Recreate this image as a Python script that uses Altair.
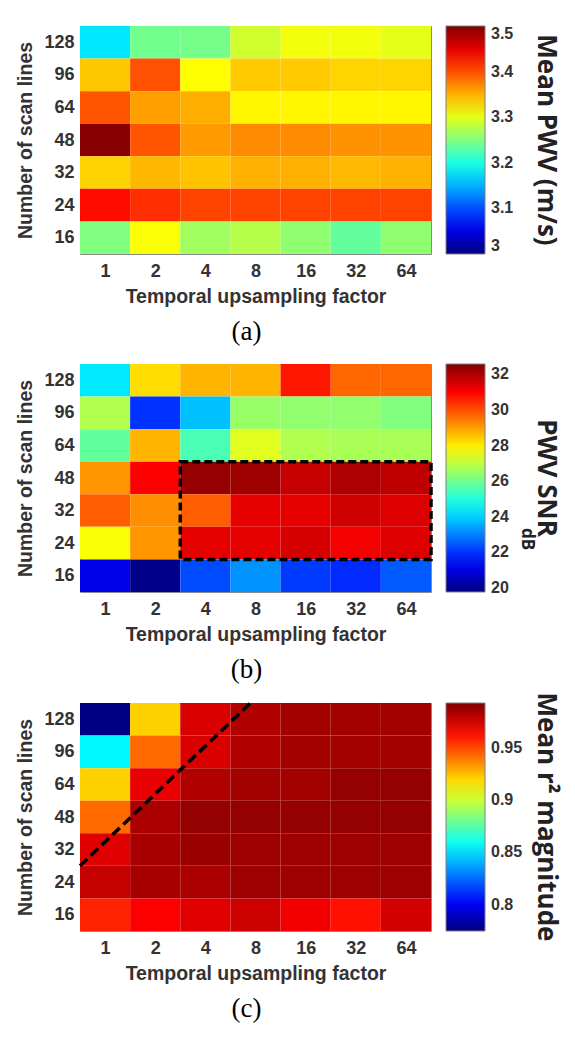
import json
import altair as alt
import pandas as pd

# ---------------- data ----------------
x_labels = ["1", "2", "4", "8", "16", "32", "64"]
y_labels = ["128", "96", "64", "48", "32", "24", "16"]  # top row first

mean_pwv = [
    [3.176, 3.243, 3.245, 3.290, 3.307, 3.307, 3.300],
    [3.340, 3.398, 3.313, 3.338, 3.338, 3.333, 3.333],
    [3.396, 3.359, 3.352, 3.317, 3.317, 3.317, 3.317],
    [3.497, 3.396, 3.362, 3.369, 3.369, 3.366, 3.366],
    [3.334, 3.348, 3.342, 3.351, 3.351, 3.347, 3.350],
    [3.432, 3.415, 3.405, 3.405, 3.405, 3.405, 3.405],
    [3.250, 3.310, 3.266, 3.276, 3.258, 3.236, 3.258],
]

pwv_snr = [
    [24.3, 28.2, 28.7, 28.7, 30.7, 29.7, 29.7],
    [26.8, 22.0, 23.8, 26.5, 26.4, 26.4, 26.2],
    [25.8, 28.7, 25.5, 27.4, 26.8, 26.7, 26.7],
    [29.1, 31.0, 32.3, 32.2, 31.7, 32.0, 31.8],
    [29.8, 29.2, 29.8, 31.3, 31.3, 31.6, 31.4],
    [27.7, 29.1, 31.3, 31.3, 31.5, 31.1, 31.4],
    [21.1, 19.9, 22.3, 23.2, 22.1, 21.9, 22.5],
]

mean_r2 = [
    [0.776, 0.921, 0.973, 0.982, 0.985, 0.985, 0.985],
    [0.855, 0.943, 0.973, 0.982, 0.985, 0.985, 0.985],
    [0.921, 0.970, 0.982, 0.985, 0.985, 0.988, 0.988],
    [0.943, 0.983, 0.988, 0.988, 0.988, 0.988, 0.988],
    [0.972, 0.984, 0.987, 0.986, 0.986, 0.986, 0.986],
    [0.978, 0.984, 0.983, 0.986, 0.986, 0.986, 0.986],
    [0.958, 0.966, 0.972, 0.976, 0.968, 0.962, 0.975],
]

pwv_domain = [3.0, 3.5]
snr_domain = [19.77, 32.58]
r2_domain = [0.775, 0.9925]

pwv_ticks = [3, 3.1, 3.2, 3.3, 3.4, 3.5]
snr_ticks = [20, 22, 24, 26, 28, 30, 32]
r2_ticks = [0.8, 0.85, 0.9, 0.95]

pwv_title = "Mean PWV (m/s)"
snr_title = "PWV SNR"
snr_sub = "dB"
r2_title = "Mean r\u00b2 magnitude"

captions = ["(a)", "(b)", "(c)"]
x_title = "Temporal upsampling factor"
y_title = "Number of scan lines"

# annotation overlays (in cell-index units)
snr_box_x = [1.5, 6.5]
snr_box_y = [0.5, 3.5]
r2_line_x = [-0.5, 2.9]
r2_line_y = [1.5, 6.5]

# jet colormap
JET_POS = [0, 0.125, 0.375, 0.625, 0.875, 1]
JET_COL = ["#000080", "#0000ff", "#00ffff", "#ffff00", "#ff0000", "#800000"]

W, H = 351, 228
AX_FONT = "Liberation Sans"
TXT = "#333333"

x_expr = json.dumps(x_labels) + "[datum.value]"
y_expr = json.dumps(list(reversed(y_labels))) + "[datum.value]"

x_axis = alt.Axis(values=list(range(len(x_labels))), labelExpr=x_expr, title=x_title,
                  grid=False, ticks=False, domain=False, labelPadding=8, titlePadding=7,
                  labelFont=AX_FONT, labelFontSize=18, labelFontWeight="bold", labelColor=TXT,
                  titleFont=AX_FONT, titleFontSize=19.5, titleFontWeight="bold", titleColor=TXT,
                  labelAngle=0)
y_axis = alt.Axis(values=list(range(len(y_labels))), labelExpr=y_expr, title=y_title,
                  grid=False, ticks=False, domain=False, labelPadding=6, titlePadding=8,
                  labelFont=AX_FONT, labelFontSize=18, labelFontWeight="bold", labelColor=TXT,
                  titleFont=AX_FONT, titleFontSize=19.5, titleFontWeight="bold", titleColor=TXT)
xs = alt.Scale(domain=[-0.5, len(x_labels) - 0.5], nice=False, zero=False)
ys = alt.Scale(domain=[-0.5, len(y_labels) - 0.5], nice=False, zero=False)


def to_long(grid):
    n = len(grid)
    rows = []
    for r, row in enumerate(grid):
        for c, v in enumerate(row):
            rows.append({"xi": c, "yi": n - 1 - r, "v": v})
    return pd.DataFrame(rows)


def heat(grid, domain, ticks, title, tpad):
    lo, hi = domain
    stops = [lo + p * (hi - lo) for p in JET_POS]
    return alt.Chart(to_long(grid)).transform_calculate(
        x0="datum.xi - 0.5", x1="datum.xi + 0.5",
        y0="datum.yi - 0.5", y1="datum.yi + 0.5",
    ).mark_rect().encode(
        x=alt.X("x0:Q", scale=xs, axis=x_axis),
        x2="x1:Q",
        y=alt.Y("y0:Q", scale=ys, axis=y_axis),
        y2="y1:Q",
        color=alt.Color("v:Q", scale=alt.Scale(domain=stops, range=JET_COL, clamp=True,
                                               interpolate="rgb"),
                        legend=alt.Legend(
                            title=title, titleOrient="right", titleAnchor="middle",
                            titleLimit=500,
                            values=ticks, format="~g", direction="vertical",
                            gradientLength=H, gradientThickness=39, offset=15, padding=0,
                            gradientStrokeColor="#808080", gradientStrokeWidth=1,
                            labelFont=AX_FONT, labelFontSize=16, labelFontWeight="bold",
                            labelColor=TXT, labelOffset=6, labelOverlap=False,
                            labelBaseline="middle",
                            titleFont="Open Sans", titleFontSize=26, titleFontWeight="bold",
                            titleColor="#222222", titlePadding=tpad)),
    )


def caption(text):
    return alt.TitleParams(text=text, orient="bottom", anchor="middle", frame="group",
                           font="Liberation Serif", fontSize=27, fontWeight="normal",
                           color="black", offset=13, dx=-9)


pa = heat(mean_pwv, pwv_domain, pwv_ticks, "\u2003" + pwv_title, 20).properties(
    width=W, height=H, title=caption(captions[0]))

box_df = pd.DataFrame({"bx0": [snr_box_x[0]], "bx1": [snr_box_x[1]],
                       "by0": [snr_box_y[0]], "by1": [snr_box_y[1]]})
box = alt.Chart(box_df).mark_rect(fill="transparent", stroke="black", strokeWidth=3.5,
                                  strokeDash=[8, 4]).encode(
    x=alt.X("bx0:Q", scale=xs, axis=x_axis), x2="bx1:Q",
    y=alt.Y("by0:Q", scale=ys, axis=y_axis), y2="by1:Q")
sub = alt.Chart(pd.DataFrame({"t": [snr_sub]})).mark_text(
    angle=90, font="Open Sans", fontSize=17, fontWeight="bold", color="#222222",
    align="center", baseline="middle").encode(
    text="t:N", x=alt.value(W + 96), y=alt.value(H - 53))
pb = alt.layer(heat(pwv_snr, snr_domain, snr_ticks, snr_title + "\u2002", 24), box, sub).properties(
    width=W, height=H, title=caption(captions[1]))

line_df = pd.DataFrame({"lx": r2_line_x, "ly": r2_line_y})
line = alt.Chart(line_df).mark_line(color="black", strokeWidth=3.5, strokeDash=[10, 5]).encode(
    x=alt.X("lx:Q", scale=xs, axis=x_axis),
    y=alt.Y("ly:Q", scale=ys, axis=y_axis))
pc = alt.layer(heat(mean_r2, r2_domain, r2_ticks, r2_title, 11), line).properties(
    width=W, height=H, title=caption(captions[2]))

top = alt.vconcat(pa, pb, spacing=18).resolve_scale(
    color="independent").resolve_legend(color="independent")
chart = alt.vconcat(top, pc, spacing=12).resolve_scale(
    color="independent").resolve_legend(color="independent").properties(
    padding={"left": 7, "top": 17, "right": 6, "bottom": 5}
).configure_view(stroke="#8a8a8a", strokeWidth=1)

chart.save("out.html", embed_options={"renderer": "svg", "actions": False})
